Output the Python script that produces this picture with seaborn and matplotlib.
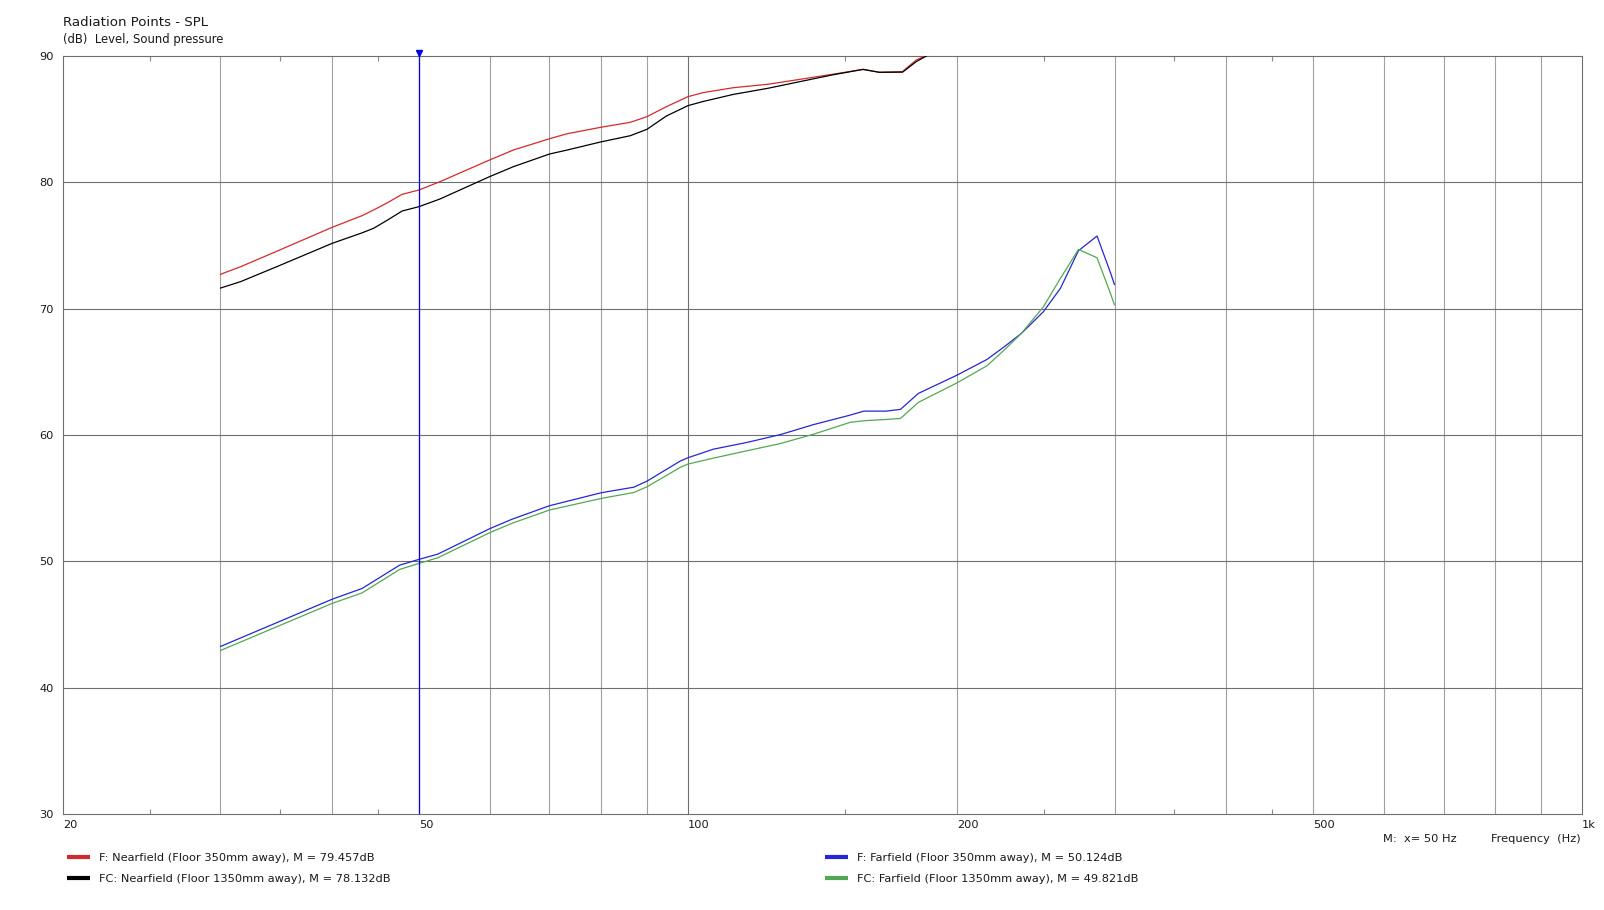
import numpy as np
import pandas as pd
import matplotlib
matplotlib.use("Agg")
import matplotlib.pyplot as plt
import seaborn as sns
from matplotlib.lines import Line2D
from matplotlib.transforms import ScaledTranslation
from matplotlib.ticker import FixedLocator, NullFormatter

# ---------------- data ----------------
nf_freq = [30, 31.6, 34.7, 40, 43.2, 44.5, 46, 47.9, 50, 52.8, 60, 63.8, 70, 73.3,
           79.8, 86.2, 90, 94.6, 100, 104, 112.4, 122.8, 133.4, 145, 157, 163.7,
           173.8, 180, 184.8, 190]
f_near = [72.72, 73.32, 74.55, 76.44, 77.36, 77.81, 78.34, 79.05, 79.39, 80.05,
          81.77, 82.56, 83.45, 83.85, 84.35, 84.75, 85.2, 85.99, 86.78, 87.1,
          87.49, 87.76, 88.15, 88.55, 88.94, 88.71, 88.77, 89.68, 90.05, 90.6]
fc_near = [71.63, 72.14, 73.33, 75.17, 76.0, 76.36, 76.96, 77.73, 78.07, 78.68,
           80.45, 81.24, 82.24, 82.56, 83.19, 83.69, 84.2, 85.25, 86.07, 86.4,
           86.96, 87.44, 87.97, 88.5, 88.94, 88.71, 88.72, 89.55, 90.0, 90.55]

ff_freq = [30, 40, 43.2, 47.6, 50, 52.5, 60, 63.5, 70, 80, 87, 90, 98, 100, 106.8,
           116.4, 127, 138.3, 151.8, 157.3, 166.6, 172.9, 181, 200, 216, 225.8,
           236, 249.8, 261, 273.4, 286.8, 296.9, 300]
f_far = [43.26, 47.0, 47.85, 49.7, 50.15, 50.57, 52.58, 53.32, 54.4, 55.43, 55.87,
         56.35, 57.93, 58.2, 58.88, 59.41, 60.04, 60.83, 61.57, 61.89, 61.89, 62.03,
         63.29, 64.74, 65.98, 66.98, 68.04, 69.76, 71.61, 74.59, 75.75, 72.85, 71.9]
fc_far = [42.94, 46.67, 47.5, 49.36, 49.83, 50.28, 52.26, 53.0, 54.06, 54.98, 55.45,
          55.9, 57.43, 57.7, 58.17, 58.75, 59.33, 60.07, 61.0, 61.13, 61.23, 61.31,
          62.58, 64.13, 65.48, 66.72, 68.04, 70.15, 72.4, 74.69, 74.03, 71.2, 70.3]

series_labels = [
    "F: Nearfield (Floor 350mm away), M = 79.457dB",
    "FC: Nearfield (Floor 1350mm away), M = 78.132dB",
    "F: Farfield (Floor 350mm away), M = 50.124dB",
    "FC: Farfield (Floor 1350mm away), M = 49.821dB",
]
series_colors = ["#d42a2a", "#000000", "#2626d4", "#52a852"]

marker_freq = 50

x_grid = [30, 40, 50, 60, 70, 80, 90, 100, 200, 300, 400, 500, 600, 700, 800, 900]
x_labels = {20: "20", 50: "50", 100: "100", 200: "200", 500: "500", 1000: "1k"}
x_minor = [25, 35, 45, 150, 250, 350, 450]
y_ticks = [30, 40, 50, 60, 70, 80, 90]

title = "Radiation Points - SPL"
subtitle = "(dB)  Level, Sound pressure"
x_title = "Frequency  (Hz)"

# ---------------- figure ----------------
sns.set_style("white")
plt.rcParams["font.family"] = ["DejaVu Sans"]
W, H = 1604, 910
fig = plt.figure(figsize=(W / 100, H / 100), dpi=100)
ax = fig.add_axes([63 / W, (H - 814) / H, 1519 / W, 758 / H])

def fx(px):
    return px / W

def fy(py):
    return 1 - py / H

TXT = "#1a1a1a"
FS = 8.2

ax.set_xscale("log")
ax.set_xlim(20, 1000)
ax.set_ylim(30, 90)

# grid
ticks_all = sorted(set(x_grid) | set(x_labels.keys()))
ax.set_xticks(ticks_all)
ax.set_xticklabels([x_labels.get(t, "") for t in ticks_all])
ax.xaxis.set_minor_locator(FixedLocator(x_minor))
ax.xaxis.set_minor_formatter(NullFormatter())
ax.set_yticks(y_ticks)
ax.set_yticklabels([str(v) for v in y_ticks])

for t in x_grid:
    col = "#6e6e6e" if t in (100,) else "#a0a0a0"
    ax.axvline(t, color=col, lw=0.8, zorder=1)
for v in y_ticks[1:-1]:
    ax.axhline(v, color="#707070", lw=0.8, zorder=1)

ax.tick_params(axis="x", which="major", length=0, pad=4.2, labelsize=FS, labelcolor=TXT)
ax.tick_params(axis="x", which="minor", length=3.5, width=0.8, color="#8a8a8a",
               direction="in", top=True, bottom=True)
ax.tick_params(axis="y", which="major", length=0, pad=6.5, labelsize=FS, labelcolor=TXT)
for lab in ax.get_xticklabels():
    lab.set_horizontalalignment("left")

for sp in ax.spines.values():
    sp.set_color("#6e6e6e")
    sp.set_linewidth(0.8)

# data lines
data = [(nf_freq, f_near), (nf_freq, fc_near), (ff_freq, f_far), (ff_freq, fc_far)]
for (fr, vals), col in zip(data, series_colors):
    sns.lineplot(x=fr, y=vals, color=col, lw=0.9, ax=ax, estimator=None,
                 sort=True, zorder=3)

# marker
ax.axvline(marker_freq, color="#0000e0", lw=0.9, zorder=5)
ax.plot([marker_freq], [90], marker="v", color="#0000e0", ms=4.5, clip_on=False,
        zorder=6, transform=ax.transData + ScaledTranslation(0, 3 / 100, fig.dpi_scale_trans))
ax.set_xlabel("")
ax.set_ylabel("")

# texts
fig.text(fx(63), fy(26.5), title, fontsize=9.6, color=TXT, va="baseline", ha="left")
fig.text(fx(63), fy(43), subtitle, fontsize=8.4, color=TXT, va="baseline", ha="left")
fig.text(fx(1383), fy(842), f"M:  x= {marker_freq} Hz", fontsize=FS, color=TXT,
         va="baseline", ha="left")
fig.text(fx(1581), fy(842), x_title, fontsize=FS, color=TXT, va="baseline", ha="right")

# legends
def make_handles(idx):
    return [Line2D([], [], color=series_colors[i], lw=3, solid_capstyle="butt") for i in idx]

for idx, x0 in (([0, 1], 67), ([2, 3], 825)):
    leg = fig.legend(make_handles(idx), [series_labels[i] for i in idx],
                     loc="upper left", bbox_to_anchor=(fx(x0), fy(853)),
                     frameon=False, fontsize=FS, handlelength=2.0,
                     handletextpad=0.85, labelspacing=0.95, borderpad=0,
                     borderaxespad=0)
    for t in leg.get_texts():
        t.set_color(TXT)

fig.savefig("out.png", dpi=100)
